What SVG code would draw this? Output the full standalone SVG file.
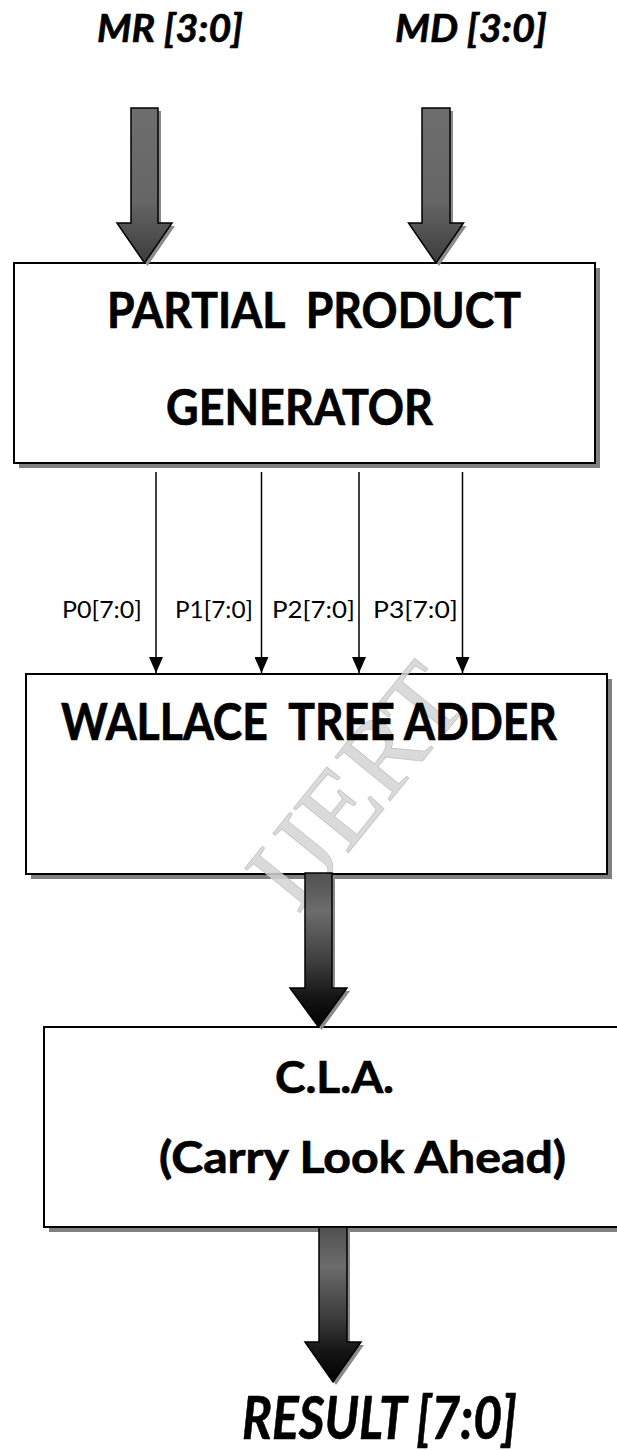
<svg xmlns="http://www.w3.org/2000/svg" width="617" height="1450" viewBox="0 0 617 1450">
  <style>
    .box { fill: #ffffff; stroke: #000000; stroke-width: 2; }
    .shadow { fill: #808080; }
    .big { font-family: "Lato", "Carlito", "Liberation Sans", sans-serif; font-weight: bold; fill: #000; stroke: #000; stroke-width: 0.7; white-space: pre; }
    .io { font-family: "Lato", "Carlito", "Liberation Sans", sans-serif; font-weight: bold; font-style: italic; fill: #000; stroke: #000; stroke-width: 0.6; }
    .lbl { font-family: "Lato", "Carlito", "Liberation Sans", sans-serif; font-size: 23px; fill: #000; }
    .wire { stroke: #000; stroke-width: 1.5; fill: none; }
    .barrow { stroke: #000; stroke-width: 1.5; stroke-linejoin: miter; }
    .bshadow { fill: #8a8a8a; }
    .wm { font-family: "Liberation Serif", serif; font-size: 108px; fill: #d4d4d4; fill-opacity: 0.85; stroke: #c4c4c4; stroke-width: 0.8; }
  </style>
  <defs>
    <linearGradient id="gTop" x1="0" y1="0" x2="0" y2="1">
      <stop offset="0" stop-color="#6e6e6e"/>
      <stop offset="0.6" stop-color="#666666"/>
      <stop offset="1" stop-color="#3c3c3c"/>
    </linearGradient>
    <linearGradient id="gDark" x1="0" y1="0" x2="0" y2="1">
      <stop offset="0" stop-color="#505050"/>
      <stop offset="0.25" stop-color="#6c6c6c"/>
      <stop offset="0.6" stop-color="#3a3a3a"/>
      <stop offset="0.8" stop-color="#151515"/>
      <stop offset="1" stop-color="#000000"/>
    </linearGradient>
    <marker id="head" viewBox="0 0 16 14" refX="16" refY="7" markerWidth="16" markerHeight="14" markerUnits="userSpaceOnUse" orient="auto">
      <path d="M0,0 L16,7 L0,14 Z" fill="#000"/>
    </marker>
  </defs>
  <rect width="617" height="1450" fill="#ffffff"/>

  <g id="in-mr">
    <text class="io" x="97" y="42" font-size="38" textLength="146" lengthAdjust="spacingAndGlyphs">MR [3:0]</text>
  </g>
  <g id="in-md">
    <text class="io" x="395" y="42" font-size="38" textLength="152" lengthAdjust="spacingAndGlyphs">MD [3:0]</text>
  </g>

  <g id="ppg">
    <rect class="shadow" x="19" y="268" width="581" height="200"/>
    <rect class="box" x="14" y="263" width="581" height="200"/>
    <text class="big" x="107" y="328" font-size="49" textLength="414" lengthAdjust="spacingAndGlyphs" xml:space="preserve">PARTIAL  PRODUCT</text>
    <text class="big" x="166" y="425" font-size="49" textLength="267" lengthAdjust="spacingAndGlyphs">GENERATOR</text>
  </g>

  <g id="wallace">
    <rect class="shadow" x="31" y="679" width="581" height="200"/>
    <rect class="box" x="26" y="674" width="581" height="200"/>
    <text class="wm" transform="translate(356,786) rotate(-51)" text-anchor="middle" y="36">IJERT</text>
    <text class="big" x="61" y="740" font-size="51" textLength="496" lengthAdjust="spacingAndGlyphs" xml:space="preserve">WALLACE  TREE ADDER</text>
  </g>

  <g id="cla">
    <rect class="shadow" x="49" y="1032" width="590" height="200"/>
    <rect class="box" x="44" y="1027" width="590" height="200"/>
    <text class="big" x="275" y="1093" font-size="44" textLength="119" lengthAdjust="spacingAndGlyphs">C.L.A.</text>
    <text class="big" x="159" y="1173" font-size="44" textLength="407" lengthAdjust="spacingAndGlyphs">(Carry Look Ahead)</text>
  </g>

  <g id="out-result">
    <text class="io" x="242" y="1439" font-size="59" textLength="275" lengthAdjust="spacingAndGlyphs">RESULT [7:0]</text>
  </g>

  <g id="connectors">
    <path class="bshadow" transform="translate(3,3)" d="M131,108 H158 V223 H172 L144.5,263 L117,223 H131 Z"/>
    <path class="bshadow" transform="translate(3,3)" d="M422,108 H450 V223 H463.5 L436,263 L408.5,223 H422 Z"/>
    <path class="bshadow" transform="translate(3,3)" d="M305,873 H332 V988 H347 L318.5,1027 L290,988 H305 Z"/>
    <path class="bshadow" transform="translate(3,3)" d="M319,1227 H347 V1342 H361 L333,1382 L305,1342 H319 Z"/>
    <path class="barrow" fill="url(#gTop)" d="M131,108 H158 V223 H172 L144.5,263 L117,223 H131 Z"/>
    <path class="barrow" fill="url(#gTop)" d="M422,108 H450 V223 H463.5 L436,263 L408.5,223 H422 Z"/>
    <path class="barrow" fill="url(#gDark)" d="M305,873 H332 V988 H347 L318.5,1027 L290,988 H305 Z"/>
    <path class="barrow" fill="url(#gDark)" d="M319,1227 H347 V1342 H361 L333,1382 L305,1342 H319 Z"/>
    <line class="wire" x1="156" y1="472" x2="156" y2="673" marker-end="url(#head)"/>
    <line class="wire" x1="261.5" y1="472" x2="261.5" y2="673" marker-end="url(#head)"/>
    <line class="wire" x1="359" y1="472" x2="359" y2="673" marker-end="url(#head)"/>
    <line class="wire" x1="462.5" y1="472" x2="462.5" y2="673" marker-end="url(#head)"/>
    <text class="lbl" x="62" y="618" textLength="80" lengthAdjust="spacingAndGlyphs">P0[7:0]</text>
    <text class="lbl" x="175" y="618" textLength="78" lengthAdjust="spacingAndGlyphs">P1[7:0]</text>
    <text class="lbl" x="272" y="618" textLength="83" lengthAdjust="spacingAndGlyphs">P2[7:0]</text>
    <text class="lbl" x="373" y="618" textLength="85" lengthAdjust="spacingAndGlyphs">P3[7:0]</text>
  </g>
</svg>
